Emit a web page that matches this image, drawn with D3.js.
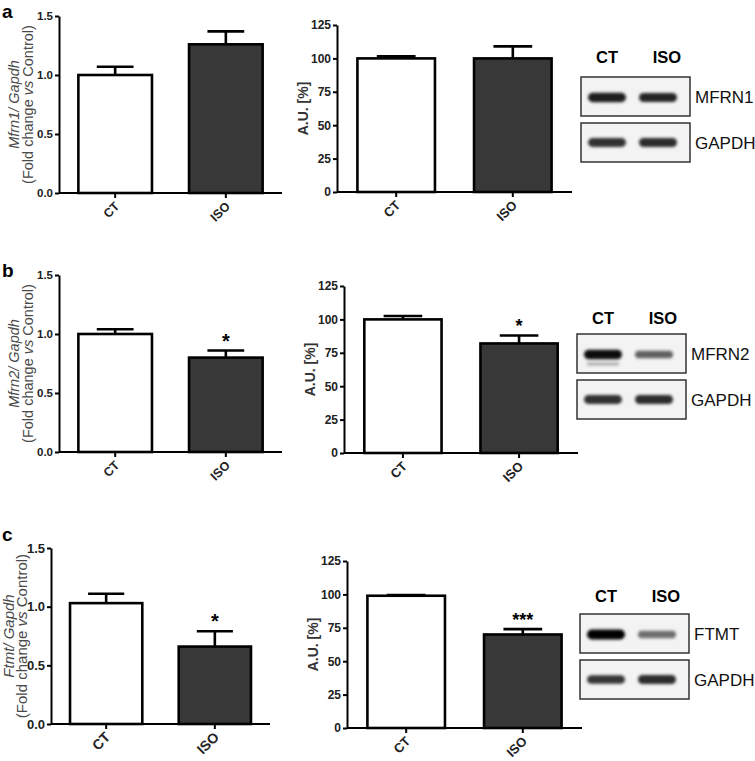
<!DOCTYPE html>
<html>
<head>
<meta charset="utf-8">
<script src="https://cdn.jsdelivr.net/npm/d3@7"></script>
<style>
  body { margin: 0; background: #fff; }
  .tick text { font-family: "Liberation Sans Narrow", "Arial Narrow", Arial, sans-serif; font-weight: bold; }
</style>
</head>
<body>
<svg id="fig" width="755" height="761"></svg>
<script>
// data
var groups = ["CT", "ISO"];
var panel_letters = ["a", "b", "c"];
var gene_names = ["Mfrn1", "Mfrn2", "Ftmt"];
var protein_names = ["MFRN1", "MFRN2", "FTMT"];

var mrna_mean = [[1.00, 1.26], [1.00, 0.80], [1.03, 0.66]];
var mrna_err  = [[0.07, 0.11], [0.04, 0.06], [0.08, 0.13]];
var mrna_sig  = [["", ""], ["", "*"], ["", "*"]];
var mrna_ticks = [0, 0.5, 1.0, 1.5];

var prot_mean = [[100, 100], [100, 82], [99, 70]];
var prot_err  = [[1.5, 9], [2.5, 6], [0.6, 4]];
var prot_sig  = [["", ""], ["", "*"], ["", "***"]];
var prot_ticks = [0, 25, 50, 75, 100, 125];

// blot band darkness (0..1) per lane
var band_target = [[0.88, 0.85], [0.95, 0.6], [1.0, 0.55]];
var band_gapdh  = [[0.8, 0.82], [0.8, 0.82], [0.78, 0.82]];

// layout of each row
var rows = [
  {letterY: 18, left: {x0: 59, x1: 282, y0: 193, y1: 16}, mid: {x0: 337, x1: 572, y0: 192, y1: 25},
   blot: {x: 581, y: 77, labelY: 63}, narrow: false},
  {letterY: 277, left: {x0: 59, x1: 282, y0: 452, y1: 275}, mid: {x0: 344, x1: 578, y0: 453, y1: 286},
   blot: {x: 577, y: 334, labelY: 324}, narrow: false},
  {letterY: 541, left: {x0: 51, x1: 270, y0: 724, y1: 548}, mid: {x0: 347, x1: 582, y0: 728, y1: 561},
   blot: {x: 580, y: 614, labelY: 602}, narrow: true}
];

var fills = ["#ffffff", "#383838"];

var svg = d3.select("#fig");
var defs = svg.append("defs");
defs.append("filter").attr("id", "blur")
  .attr("x", "-30%").attr("y", "-100%").attr("width", "160%").attr("height", "300%")
  .append("feGaussianBlur").attr("stdDeviation", 1.8);

function drawBarChart(g, box, means, errs, sigs, ticks, maxY, fmt, opts) {
  var x = d3.scaleBand().domain(groups).range([box.x0, box.x1])
      .paddingInner(0.335).paddingOuter(0.175);
  var y = d3.scaleLinear().domain([0, maxY]).range([box.y0, box.y1]);

  var bars = g.append("g");
  bars.selectAll("rect").data(groups).enter().append("rect")
    .attr("x", d => x(d))
    .attr("y", (d, i) => y(means[i]))
    .attr("width", x.bandwidth())
    .attr("height", (d, i) => y(0) - y(means[i]))
    .attr("fill", (d, i) => fills[i])
    .attr("stroke", "#000")
    .attr("stroke-width", 2.6);

  // error bars (upper only)
  var eb = g.append("g").attr("stroke", "#000").attr("stroke-width", 2.6);
  groups.forEach(function(d, i) {
    var cx = x(d) + x.bandwidth() / 2;
    var cw = x.bandwidth() / 4;
    eb.append("line").attr("x1", cx).attr("x2", cx)
      .attr("y1", y(means[i])).attr("y2", y(means[i] + errs[i]));
    eb.append("line").attr("x1", cx - cw).attr("x2", cx + cw)
      .attr("y1", y(means[i] + errs[i])).attr("y2", y(means[i] + errs[i]));
    if (sigs[i]) {
      g.append("text").attr("x", cx).attr("y", y(means[i] + errs[i]) - 3)
        .attr("text-anchor", "middle")
        .attr("font-family", "Liberation Sans, Arial, sans-serif")
        .attr("font-weight", "bold")
        .attr("font-size", opts.starSize)
        .text(sigs[i]);
    }
  });

  var ya = g.append("g").attr("transform", "translate(" + box.x0 + ",0)")
    .call(d3.axisLeft(y).tickValues(ticks).tickFormat(fmt).tickSize(4).tickSizeOuter(0));
  var xa = g.append("g").attr("transform", "translate(0," + box.y0 + ")")
    .call(d3.axisBottom(x).tickSize(5).tickSizeOuter(0));
  // extend x axis line over whole range
  xa.select(".domain").attr("d", "M" + box.x0 + ",0H" + box.x1);
  [ya, xa].forEach(function(a) {
    a.select(".domain").attr("stroke-width", 2);
    a.selectAll(".tick line").attr("stroke-width", 2);
    a.selectAll(".tick text").attr("fill", "#222").attr("font-size", opts.tickSize);
  });
  ya.selectAll(".tick text").attr("x", -6);
  xa.selectAll(".tick text")
    .attr("text-anchor", "end")
    .attr("dy", 0)
    .attr("y", 0)
    .attr("x", 0)
    .attr("font-size", opts.tickSize + 1)
    .attr("transform", "translate(5,14) rotate(-45)");
}

rows.forEach(function(r, k) {
  var g = svg.append("g");
  var labelFont = r.narrow ? "Liberation Sans Narrow, Arial Narrow, sans-serif" : "Liberation Sans, Arial, sans-serif";

  g.append("text").attr("x", 2).attr("y", r.letterY)
    .attr("font-family", "Liberation Sans, Arial, sans-serif")
    .attr("font-weight", "bold").attr("font-size", 19).text(panel_letters[k]);

  // mRNA chart
  drawBarChart(g.append("g"), r.left, mrna_mean[k], mrna_err[k], mrna_sig[k],
    mrna_ticks, 1.5, d3.format(".1f"), {tickSize: r.narrow ? 13 : 11.5, starSize: 20});

  var cy = (r.left.y0 + r.left.y1) / 2;
  var lx = r.narrow ? r.left.x0 - 37 : r.left.x0 - 40;
  var yl = g.append("text")
    .attr("transform", "translate(" + lx + "," + cy + ") rotate(-90)")
    .attr("text-anchor", "middle")
    .attr("font-family", labelFont)
    .attr("font-size", r.narrow ? 15 : 14.5)
    .attr("fill", "#4a4a4a");
  yl.append("tspan").attr("x", 0).attr("dy", 0).attr("font-style", "italic")
    .text(gene_names[k] + "/ Gapdh");
  var l2 = yl.append("tspan").attr("x", 0).attr("dy", r.narrow ? 13 : 14);
  l2.append("tspan").text("(Fold change ");
  l2.append("tspan").attr("font-style", "italic").text("vs");
  l2.append("tspan").text(" Control)");

  // protein chart
  drawBarChart(g.append("g"), r.mid, prot_mean[k], prot_err[k], prot_sig[k],
    prot_ticks, 125, d3.format("d"), {tickSize: 12, starSize: 18});

  g.append("text")
    .attr("transform", "translate(" + (r.mid.x0 - 29) + "," + ((r.mid.y0 + r.mid.y1) / 2) + ") rotate(-90)")
    .attr("text-anchor", "middle")
    .attr("font-family", "Liberation Sans, Arial, sans-serif")
    .attr("font-weight", "bold")
    .attr("font-size", 14)
    .attr("fill", "#333")
    .text("A.U. [%]");

  // western blot
  var b = r.blot, bw = 109, bh = 39, gap = 7;
  var lanes = d3.scaleBand().domain(groups).range([b.x + 6, b.x + 97]).paddingInner(0.216).paddingOuter(0);
  var bg = g.append("g");
  groups.forEach(function(d) {
    bg.append("text").attr("x", lanes(d) + lanes.bandwidth() / 2 + (d === "ISO" ? 9 : 0))
      .attr("y", b.labelY).attr("text-anchor", "middle")
      .attr("font-family", "Liberation Sans, Arial, sans-serif")
      .attr("font-weight", "bold").attr("font-size", 16.5).text(d);
  });
  [[protein_names[k], band_target[k]], ["GAPDH", band_gapdh[k]]].forEach(function(strip, j) {
    var sy = b.y + j * (bh + gap);
    bg.append("rect").attr("x", b.x).attr("y", sy).attr("width", bw).attr("height", bh)
      .attr("fill", "#f3f3f3").attr("stroke", "#333").attr("stroke-width", 1.5);
    var band = bg.append("g").attr("filter", "url(#blur)");
    groups.forEach(function(d, i) {
      var v = strip[1][i];
      var hgt = 4 + 6 * v;
      band.append("rect")
        .attr("x", lanes(d) + 1).attr("width", lanes.bandwidth() - 2)
        .attr("y", sy + bh / 2 - hgt / 2 + (j === 0 ? 1 : 0)).attr("height", hgt)
        .attr("rx", hgt / 2)
        .attr("fill", "#000").attr("fill-opacity", v);
    });
    if (k === 1 && j === 0) {
      band.append("rect").attr("x", lanes("CT") + 4).attr("width", lanes.bandwidth() - 8)
        .attr("y", sy + bh / 2 + 9).attr("height", 3).attr("fill", "#000").attr("fill-opacity", 0.3);
    }
    bg.append("text").attr("x", b.x + bw + 5).attr("y", sy + bh / 2 + 6)
      .attr("font-family", "Liberation Sans, Arial, sans-serif")
      .attr("font-size", 17).attr("fill", "#111").text(strip[0]);
  });
});
</script>
</body>
</html>
